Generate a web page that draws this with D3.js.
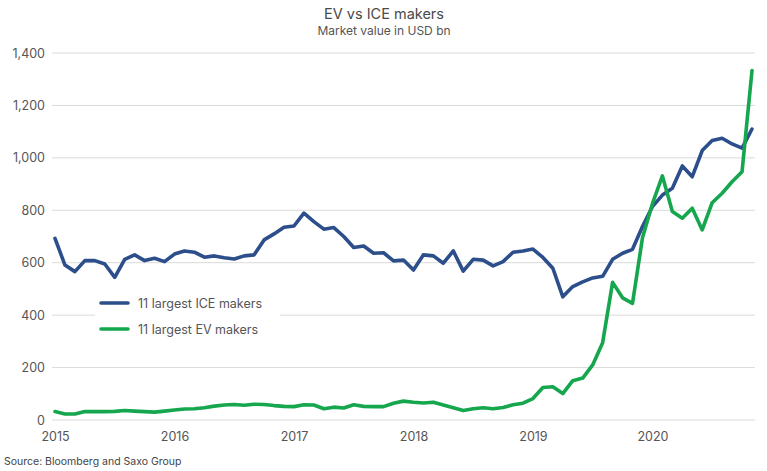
<!DOCTYPE html>
<html>
<head>
<meta charset="utf-8">
<script src="https://cdn.jsdelivr.net/npm/d3@7"></script>
<style>
  html, body { margin: 0; padding: 0; background: #fff; }
  svg { display: block; font-family: Inter, "Noto Sans", sans-serif; }
</style>
</head>
<body>
<svg id="chart" width="767" height="471"></svg>
<script>
// ---- Data (monthly, Jan 2015 - Nov 2020, USD bn) ----
const years = ["2015", "2016", "2017", "2018", "2019", "2020"];
const yTicks = [0, 200, 400, 600, 800, 1000, 1200, 1400];
const seriesNames = ["11 largest ICE makers", "11 largest EV makers"];
const iceValues = [
  693, 591, 566, 608, 608, 595, 544, 613, 630, 608,
  617, 604, 633, 645, 640, 621, 626, 619, 614, 626,
  630, 687, 710, 735, 740, 789, 757, 728, 734, 700,
  658, 664, 636, 638, 607, 610, 572, 630, 626, 598,
  645, 568, 613, 610, 588, 604, 640, 645, 652, 620,
  579, 470, 509, 527, 542, 548, 613, 636, 651, 738,
  814, 858, 884, 969, 928, 1028, 1066, 1075, 1053, 1037,
  1110
];
const evValues = [
  32, 23, 23, 32, 32, 32, 33, 36, 34, 32,
  30, 34, 38, 42, 43, 47, 53, 57, 59, 56,
  60, 59, 55, 52, 51, 58, 57, 43, 49, 46,
  58, 52, 51, 51, 64, 72, 68, 65, 68, 57,
  47, 36, 43, 47, 43, 48, 58, 64, 82, 124,
  127, 101, 150, 160, 210, 295, 525, 466, 445, 695,
  825, 931, 795, 770, 808, 725, 829, 865, 909, 947,
  1333
];
const colors = ["#2c4e8a", "#15a64e"];

// ---- Layout ----
const svg = d3.select("#chart");
const W = 767, H = 471;
const plot = { left: 52, right: 755, top: 53, bottom: 420 };

const x = d3.scaleLinear().domain([0, iceValues.length - 1]).range([55, 752]);
const y = d3.scaleLinear().domain([0, 1400]).range([plot.bottom, plot.top]);

// Title
svg.append("text").attr("x", 384).attr("y", 19).attr("text-anchor", "middle")
  .attr("font-size", 14.5).attr("fill", "#4a4a4a").text("EV vs ICE makers");
svg.append("text").attr("x", 384).attr("y", 35).attr("text-anchor", "middle")
  .attr("font-size", 12).attr("fill", "#555").text("Market value in USD bn");

// Gridlines
svg.append("g").selectAll("line").data(yTicks).join("line")
  .attr("x1", plot.left).attr("x2", plot.right)
  .attr("y1", d => y(d)).attr("y2", d => y(d))
  .attr("stroke", "#dadada").attr("stroke-width", 1);

// Y axis labels
const yAxis = d3.axisLeft(y).tickValues(yTicks).tickSize(0).tickPadding(0)
  .tickFormat(d3.format(","));
const gy = svg.append("g").attr("transform", `translate(45,0)`).call(yAxis);
gy.select(".domain").remove();
gy.selectAll("text").attr("font-size", 12.5).attr("fill", "#555")
  .attr("font-family", "Inter, 'Noto Sans', sans-serif");

// X axis labels
const xAxis = d3.axisBottom(x).tickValues(years.map((_, i) => i * 12))
  .tickSize(0).tickPadding(0).tickFormat((d, i) => years[i]);
const gx = svg.append("g").attr("transform", `translate(0,${plot.bottom + 12})`).call(xAxis);
gx.select(".domain").remove();
gx.selectAll("text").attr("font-size", 12.5).attr("fill", "#555")
  .attr("font-family", "Inter, 'Noto Sans', sans-serif");

// Lines
const line = d3.line().x((d, i) => x(i)).y(d => y(d)).curve(d3.curveLinear);
[iceValues, evValues].forEach((vals, k) => {
  svg.append("path").datum(vals)
    .attr("fill", "none").attr("stroke", colors[k])
    .attr("stroke-width", 3.6).attr("stroke-linejoin", "round").attr("stroke-linecap", "round")
    .attr("d", line);
});

// Legend (white box covering gridlines)
const lg = svg.append("g");
lg.append("rect").attr("x", 95).attr("y", 290).attr("width", 185).attr("height", 50).attr("fill", "#fff");
seriesNames.forEach((name, k) => {
  const ly = 303 + k * 26;
  lg.append("line").attr("x1", 101).attr("x2", 128).attr("y1", ly).attr("y2", ly)
    .attr("stroke", colors[k]).attr("stroke-width", 3.6).attr("stroke-linecap", "round");
  lg.append("text").attr("x", 138).attr("y", ly + 4.5).attr("font-size", 12.5)
    .attr("fill", "#555").text(name);
});

// Source
svg.append("text").attr("x", 4).attr("y", 465).attr("font-size", 10.5)
  .attr("fill", "#444").text("Source: Bloomberg and Saxo Group");
</script>
</body>
</html>
